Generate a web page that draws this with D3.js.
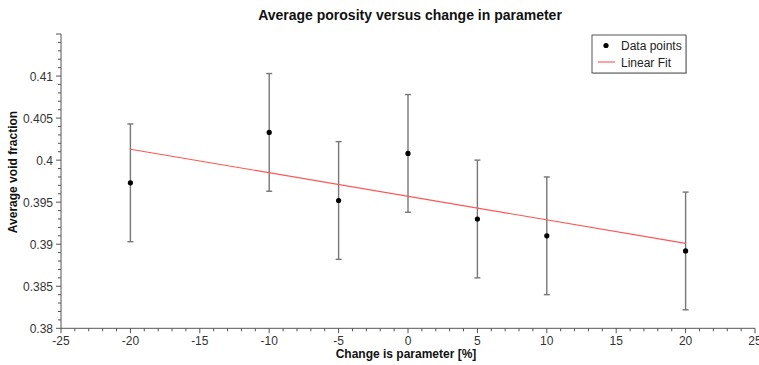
<!DOCTYPE html>
<html><head><meta charset="utf-8">
<script src="https://cdn.jsdelivr.net/npm/d3@7"></script>
<style>
body{margin:0;background:#fff;}
svg{font-family:"Liberation Sans",Arial,sans-serif;}
</style></head>
<body><svg id="c" width="759" height="365"></svg>
<script>
const changes = [-20, -10, -5, 0, 5, 10, 20];
const voidFraction = [0.3973, 0.4033, 0.3952, 0.4008, 0.3930, 0.3910, 0.3892];
const errors = [0.0070, 0.0070, 0.0070, 0.0070, 0.0070, 0.0070, 0.0070];
const fitX = [-20, 20];
const fitY = [0.4013, 0.3901];
const xTicks = [-25, -20, -15, -10, -5, 0, 5, 10, 15, 20, 25];
const yTicks = [0.38, 0.385, 0.39, 0.395, 0.4, 0.405, 0.41];

const svg = d3.select("#c");
const x = d3.scaleLinear().domain([-25, 25]).range([61, 755]);
const y = d3.scaleLinear().domain([0.38, 0.415]).range([328.3, 34]);

// axes lines
const axisColor = "#555";
svg.append("line").attr("x1", x(-25)).attr("x2", x(25)).attr("y1", y(0.38)).attr("y2", y(0.38)).attr("stroke", axisColor);
svg.append("line").attr("x1", x(-25)).attr("x2", x(-25)).attr("y1", y(0.38)).attr("y2", y(0.415)).attr("stroke", axisColor);

// x minor ticks
const xMinor = d3.range(-25, 25.01, 1);
svg.append("g").selectAll("line").data(xMinor).join("line")
  .attr("x1", d => x(d)).attr("x2", d => x(d))
  .attr("y1", y(0.38)).attr("y2", d => y(0.38) + (d % 5 === 0 ? 5 : 3))
  .attr("stroke", axisColor);
svg.append("g").selectAll("text").data(xTicks).join("text")
  .attr("x", d => x(d)).attr("y", 345).attr("text-anchor", "middle")
  .attr("font-size", 12).attr("fill", "#333").text(d => d);

// y minor ticks
const yMinor = d3.range(0, 36).map(i => 0.38 + i * 0.001);
svg.append("g").selectAll("line").data(yMinor).join("line")
  .attr("y1", d => y(d)).attr("y2", d => y(d))
  .attr("x1", x(-25)).attr("x2", (d, i) => x(-25) - (i % 5 === 0 ? 5 : 3))
  .attr("stroke", axisColor);
svg.append("g").selectAll("text").data(yTicks).join("text")
  .attr("x", 53).attr("y", d => y(d) + 4.5).attr("text-anchor", "end")
  .attr("font-size", 12).attr("fill", "#333").text(d => d3.format("")(+d.toFixed(3)));

// error bars
const pts = changes.map((c, i) => ({c, v: voidFraction[i], e: errors[i]}));
const eb = svg.append("g").attr("stroke", "#777").attr("stroke-width", 1.4);
eb.selectAll(".v").data(pts).join("line")
  .attr("x1", d => x(d.c)).attr("x2", d => x(d.c))
  .attr("y1", d => y(d.v - d.e)).attr("y2", d => y(d.v + d.e));
eb.selectAll(".t").data(pts).join("line")
  .attr("x1", d => x(d.c) - 3).attr("x2", d => x(d.c) + 3)
  .attr("y1", d => y(d.v + d.e)).attr("y2", d => y(d.v + d.e));
eb.selectAll(".b").data(pts).join("line")
  .attr("x1", d => x(d.c) - 3).attr("x2", d => x(d.c) + 3)
  .attr("y1", d => y(d.v - d.e)).attr("y2", d => y(d.v - d.e));

// fit line
svg.append("path")
  .datum(fitX.map((fx, i) => [fx, fitY[i]]))
  .attr("d", d3.line().x(d => x(d[0])).y(d => y(d[1])))
  .attr("stroke", "#ff5555").attr("stroke-width", 1.1).attr("fill", "none");

// points
svg.append("g").selectAll("circle").data(pts).join("circle")
  .attr("cx", d => x(d.c)).attr("cy", d => y(d.v)).attr("r", 2.6).attr("fill", "#000");

// title
svg.append("text").attr("x", 410).attr("y", 20).attr("text-anchor", "middle")
  .attr("font-size", 14).attr("font-weight", "bold").attr("fill", "#111")
  .text("Average porosity versus change in parameter");
svg.append("text").attr("x", 406).attr("y", 358).attr("text-anchor", "middle")
  .attr("font-size", 12).attr("font-weight", "bold").attr("fill", "#111")
  .text("Change is parameter [%]");
svg.append("text").attr("transform", "translate(17,172) rotate(-90)").attr("text-anchor", "middle")
  .attr("font-size", 12).attr("font-weight", "bold").attr("fill", "#111")
  .text("Average void fraction");

// legend
const lg = svg.append("g");
lg.append("rect").attr("x", 593).attr("y", 36).attr("width", 94).attr("height", 38).attr("fill", "#ccc");
lg.append("rect").attr("x", 592).attr("y", 35).attr("width", 94).attr("height", 38).attr("fill", "#fff").attr("stroke", "#555");
lg.append("circle").attr("cx", 606).attr("cy", 45.5).attr("r", 2.6).attr("fill", "#000");
lg.append("line").attr("x1", 598).attr("x2", 615).attr("y1", 62).attr("y2", 62).attr("stroke", "#ff5555").attr("stroke-width", 1.1);
lg.append("text").attr("x", 621).attr("y", 50).attr("font-size", 12).attr("fill", "#222").text("Data points");
lg.append("text").attr("x", 621).attr("y", 66.5).attr("font-size", 12).attr("fill", "#222").text("Linear Fit");
</script></body></html>
